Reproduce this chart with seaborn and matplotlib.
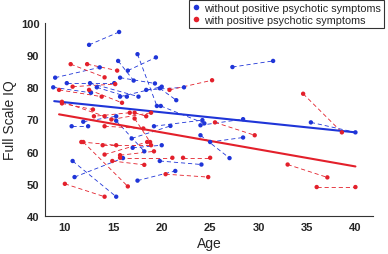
# -*- coding: utf-8 -*-
import matplotlib.pyplot as plt
from matplotlib.lines import Line2D
import pandas as pd
import seaborn as sns

palette = {"blue": "#1f35d8", "red": "#e3202b"}

groups = ["without positive psychotic symptoms", "with positive psychotic symptoms"]

# without positive psychotic symptoms: first / second assessment
no_age1 = [12.5, 9.0, 10.2, 12.6, 13.3, 15.5, 16.5, 17.5, 15.7, 8.8, 15.7, 18.4, 19.8, 19.9,
           24.0, 27.3, 35.4, 24.0, 25.0, 15.3, 11.9, 10.7, 16.9, 17.0, 11.0, 19.8, 17.5, 10.8, 19.2]
no_iq1 = [93.2, 83.0, 81.3, 81.3, 80.0, 88.2, 85.2, 90.3, 83.0, 80.0, 77.1, 79.2, 79.7, 74.2,
          68.2, 86.3, 69.1, 65.1, 63.0, 69.6, 69.3, 67.9, 64.1, 61.2, 52.1, 57.1, 51.0, 57.1, 67.9]
no_age2 = [15.6, 13.6, 15.1, 17.6, 16.4, 17.1, 19.4, 19.5, 19.3, 12.7, 20.0, 22.3, 21.5, 24.4,
           28.4, 31.5, 40.0, 27.0, 28.4, 18.2, 15.3, 12.4, 20.9, 20.0, 16.0, 24.1, 21.4, 15.3, 24.2]
no_iq2 = [97.2, 86.2, 81.3, 77.1, 77.1, 82.1, 89.3, 74.2, 81.2, 78.3, 80.2, 80.0, 76.0, 68.8,
          70.1, 88.2, 66.0, 58.0, 64.4, 60.1, 71.0, 67.9, 68.0, 62.0, 58.0, 56.0, 54.0, 46.0, 69.8]

# with positive psychotic symptoms: first / second assessment
pos_age1 = [10.6, 12.3, 10.8, 9.4, 12.5, 9.7, 9.7, 20.8, 34.6, 25.5, 14.8, 14.1, 17.2,
            11.9, 11.7, 13.9, 14.1, 15.7, 15.7, 14.9, 22.2, 20.4, 10.0, 33.0, 36.0, 17.2, 16.7]
pos_iq1 = [87.2, 87.2, 80.2, 79.2, 79.2, 75.5, 75.0, 79.2, 78.0, 69.1, 70.0, 67.9, 72.1,
           63.0, 63.0, 62.0, 59.1, 58.9, 58.1, 57.1, 58.1, 53.0, 50.0, 56.0, 49.0, 70.3, 72.1]
pos_age2 = [14.1, 15.4, 15.2, 13.8, 15.9, 14.1, 12.9, 25.2, 38.6, 29.6, 18.9, 18.1, 18.4,
            16.5, 15.3, 18.9, 18.5, 19.2, 21.1, 18.2, 25.0, 24.8, 14.1, 37.1, 40.0, 18.8, 13.0]
pos_iq2 = [83.1, 85.2, 81.0, 77.1, 75.2, 71.0, 73.1, 82.2, 66.0, 65.1, 72.1, 67.2, 71.0,
           49.2, 62.0, 62.0, 63.0, 60.1, 58.1, 55.9, 58.1, 52.1, 46.0, 52.0, 49.0, 63.0, 71.0]

# fitted regression lines (end points)
no_fit_age = [8.9, 40.0]
no_fit_iq = [75.7, 66.0]
pos_fit_age = [9.4, 40.0]
pos_fit_iq = [71.6, 55.4]

# Long format: one row per assessment
rows = []
for g, (a1, i1, a2, i2) in zip(groups, [(no_age1, no_iq1, no_age2, no_iq2),
                                        (pos_age1, pos_iq1, pos_age2, pos_iq2)]):
    for k in range(len(a1)):
        rows.append({"subject": f"{g[:4]}{k}", "group": g, "age": a1[k], "iq": i1[k]})
        rows.append({"subject": f"{g[:4]}{k}", "group": g, "age": a2[k], "iq": i2[k]})
df = pd.DataFrame(rows)

colors = {groups[0]: palette["blue"], groups[1]: palette["red"]}

sns.set_style("white")
plt.rcParams["font.family"] = ["Liberation Sans", "DejaVu Sans"]

fig, ax = plt.subplots(figsize=(3.88, 2.55), dpi=100)
fig.subplots_adjust(left=0.116, right=0.961, bottom=0.149, top=0.906)

# Dashed connectors between the two assessments of each subject
sns.lineplot(data=df, x="age", y="iq", hue="group", units="subject",
             estimator=None, sort=False, palette=colors, linewidth=0.6,
             linestyle=(0, (5, 3.5)), legend=False, ax=ax)

# Points
sns.scatterplot(data=df, x="age", y="iq", hue="group", palette=colors,
                s=10, edgecolor="none", legend=False, ax=ax, zorder=3)

# Regression lines
sns.lineplot(x=no_fit_age, y=no_fit_iq, color=palette["blue"], linewidth=1.5, ax=ax)
sns.lineplot(x=pos_fit_age, y=pos_fit_iq, color=palette["red"], linewidth=1.5, ax=ax)

ax.set_xlim(7.95, 41.8)
ax.set_ylim(40, 100)
ax.set_xticks([10, 15, 20, 25, 30, 35, 40])
ax.set_yticks([40, 50, 60, 70, 80, 90, 100])
sns.despine(ax=ax)
for s in ["left", "bottom"]:
    ax.spines[s].set_color("#333333")
    ax.spines[s].set_linewidth(0.8)
ax.tick_params(direction="in", length=3, width=0.8, color="#333333",
               labelsize=8, pad=4)
for lab in ax.get_xticklabels() + ax.get_yticklabels():
    lab.set_fontweight("bold")

ax.set_xlabel("Age", fontsize=10, labelpad=3)
ax.set_ylabel("Full Scale IQ", fontsize=10, labelpad=3)

handles = [Line2D([], [], marker="o", linestyle="none", markersize=4,
                  markerfacecolor=colors[g], markeredgecolor="none", label=g)
           for g in groups]
leg = fig.legend(handles=handles, loc="upper right", bbox_to_anchor=(0.99, 0.997),
                 frameon=True, fancybox=False, edgecolor="black", fontsize=7.8,
                 handlelength=0.8, handletextpad=0.3, borderpad=0.3,
                 labelspacing=0.15, borderaxespad=0)
leg.get_frame().set_linewidth(0.8)

fig.savefig("out.png", dpi=100)
